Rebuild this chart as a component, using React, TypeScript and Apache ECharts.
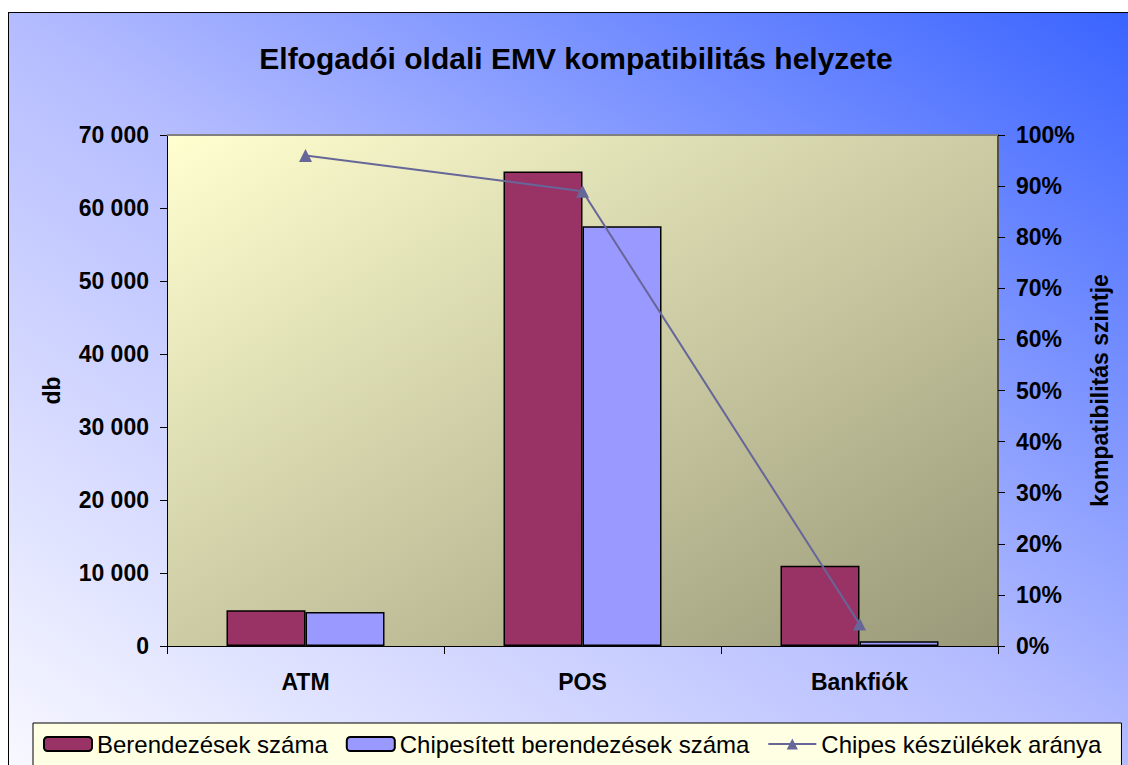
import React, { useEffect, useRef } from "react";
import * as echarts from "echarts";

const categories = ["ATM", "POS", "Bankfiók"];
const berendezesek = [4900, 65000, 11000];
const chipesitett = [4650, 57500, 650];
const arany = [96, 89, 4.3];

const seriesNames = [
  "Berendezések száma",
  "Chipesített berendezések száma",
  "Chipes készülékek aránya",
];

const leftTicks = { min: 0, max: 70000, interval: 10000 };
const rightTicks = { min: 0, max: 100, interval: 10 };

const FONT = "'Liberation Sans', Arial, sans-serif";

function fmtThousands(v: number): string {
  return String(v).replace(/\B(?=(\d{3})+(?!\d))/g, " ");
}

export default function App() {
  const ref = useRef<HTMLDivElement>(null);

  useEffect(() => {
    if (!ref.current) return;
    const chart = echarts.init(ref.current, undefined, { renderer: "svg" });
    const labelStyle = {
      color: "#000",
      fontFamily: FONT,
      fontWeight: "bold" as const,
      fontSize: 23,
    };
    chart.setOption({
      animation: false,
      backgroundColor: "transparent",
      title: {
        text: "Elfogadói oldali EMV kompatibilitás helyzete",
        left: 562,
        top: 25,
        textAlign: "center",
        textStyle: {
          color: "#000",
          fontFamily: FONT,
          fontWeight: "bold",
          fontSize: 30,
        },
      },
      legend: {
        left: 24,
        top: 710,
        padding: [9, 20, 30, 10],
        itemGap: 18,
        itemWidth: 48,
        itemHeight: 14,
        backgroundColor: "#FFFFE4",
        borderColor: "#000",
        borderWidth: 1,
        textStyle: { color: "#000", fontFamily: FONT, fontSize: 24 },
        data: seriesNames,
      },
      grid: {
        left: 158,
        top: 122,
        width: 831,
        height: 511,
        show: true,
        borderWidth: 0,
        backgroundColor: new echarts.graphic.LinearGradient(0, 0, 1, 1, [
          { offset: 0, color: "#FFFFD0" },
          { offset: 1, color: "#999878" },
        ]),
      },
      xAxis: {
        type: "category",
        data: categories,
        axisLine: { lineStyle: { color: "#000", width: 1 } },
        axisTick: { show: true, length: 8, lineStyle: { color: "#000" } },
        axisLabel: { ...labelStyle, margin: 24 },
      },
      yAxis: [
        {
          type: "value",
          ...leftTicks,
          name: "db",
          nameLocation: "middle",
          nameGap: 104,
          nameRotate: 90,
          nameTextStyle: labelStyle,
          axisLine: { show: true, lineStyle: { color: "#000", width: 1 } },
          axisTick: { show: true, length: 7, lineStyle: { color: "#000" } },
          splitLine: { show: false },
          axisLabel: {
            ...labelStyle,
            margin: 18,
            formatter: (v: number) => fmtThousands(v),
          },
        },
        {
          type: "value",
          ...rightTicks,
          position: "right",
          name: "kompatibilitás szintje",
          nameLocation: "middle",
          nameGap: 90,
          nameRotate: 90,
          nameTextStyle: labelStyle,
          axisLine: { show: true, lineStyle: { color: "#505050", width: 2 } },
          axisTick: { show: true, length: 7, lineStyle: { color: "#000" } },
          splitLine: { show: false },
          axisLabel: { ...labelStyle, margin: 18, formatter: "{value}%" },
        },
      ],
      graphic: [
        {
          type: "line",
          shape: { x1: 158, y1: 122, x2: 989, y2: 122 },
          style: { stroke: "#808080", lineWidth: 2 },
          z: 5,
        },
      ],
      series: [
        {
          name: seriesNames[0],
          type: "bar",
          data: berendezesek,
          barWidth: 79,
          barGap: "0%",
          itemStyle: { color: "#993366", borderColor: "#000", borderWidth: 1.5 },
        },
        {
          name: seriesNames[1],
          type: "bar",
          data: chipesitett,
          barWidth: 79,
          barGap: "0%",
          itemStyle: { color: "#9999FF", borderColor: "#000", borderWidth: 1.5 },
        },
        {
          name: seriesNames[2],
          type: "line",
          yAxisIndex: 1,
          data: arany,
          symbol: "triangle",
          symbolSize: 13,
          lineStyle: { color: "#666699", width: 2 },
          itemStyle: { color: "#666699" },
          z: 10,
        },
      ],
    });
    return () => chart.dispose();
  }, []);

  return (
    <div
      style={{
        position: "absolute",
        left: 8,
        top: 12,
        width: 1120,
        height: 753,
        borderLeft: "1px solid #000",
        borderTop: "1px solid #000",
        boxSizing: "border-box",
        overflow: "hidden",
        background:
          "linear-gradient(to top right, #F8F8FF 0%, #B4BCFF 50%, #3A64FF 100%)",
      }}
    >
      <div ref={ref} style={{ width: 1119, height: 752 }} />
    </div>
  );
}
